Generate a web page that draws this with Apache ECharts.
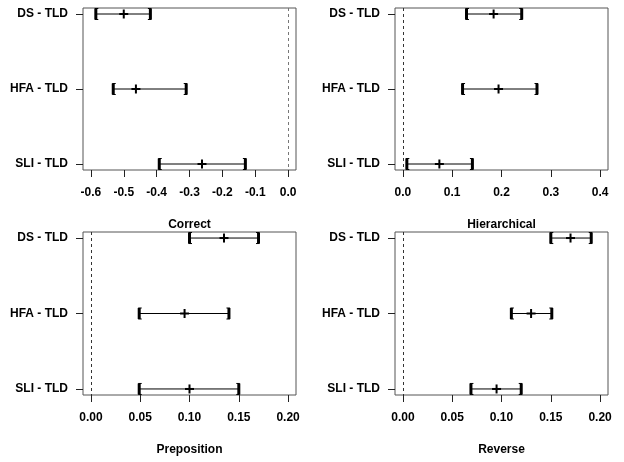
<!DOCTYPE html>
<html>
<head>
<meta charset="utf-8">
<script src="https://cdn.jsdelivr.net/npm/echarts@6/dist/echarts.min.js"></script>
<style>
html,body{margin:0;padding:0;background:#fff;}
#chart{width:624px;height:462px;}
</style>
</head>
<body>
<div id="chart"></div>
<script>
// ---- data ----
const categories = ['DS - TLD', 'HFA - TLD', 'SLI - TLD'];

const correctEst = [-0.50, -0.463, -0.262];
const correctLo  = [-0.585, -0.532, -0.392];
const correctHi  = [-0.419, -0.310, -0.130];
const correctTicks = [-0.6, -0.5, -0.4, -0.3, -0.2, -0.1, 0.0];

const hierEst = [0.184, 0.194, 0.074];
const hierLo  = [0.129, 0.121, 0.008];
const hierHi  = [0.241, 0.272, 0.141];
const hierTicks = [0.0, 0.1, 0.2, 0.3, 0.4];

const prepEst = [0.135, 0.095, 0.100];
const prepLo  = [0.100, 0.049, 0.049];
const prepHi  = [0.170, 0.140, 0.150];
const prepTicks = [0.00, 0.05, 0.10, 0.15, 0.20];

const revEst = [0.170, 0.130, 0.095];
const revLo  = [0.150, 0.110, 0.069];
const revHi  = [0.191, 0.151, 0.120];
const revTicks = [0.00, 0.05, 0.10, 0.15, 0.20];

const panelTitles = ['Correct', 'Hierarchical', 'Preposition', 'Reverse'];
const catPositions = [1, 2, 3];

// ---- build ----
const FONT = '"Liberation Sans", Arial, sans-serif';
const panels = [
  {est: correctEst, lo: correctLo, hi: correctHi, ticks: correctTicks, dec: 1},
  {est: hierEst, lo: hierLo, hi: hierHi, ticks: hierTicks, dec: 1},
  {est: prepEst, lo: prepLo, hi: prepHi, ticks: prepTicks, dec: 2},
  {est: revEst, lo: revLo, hi: revHi, ticks: revTicks, dec: 2}
];
const gridPos = [
  {left: 83, top: 8, width: 213, height: 162},
  {left: 395, top: 8, width: 213, height: 162},
  {left: 83, top: 232, width: 213, height: 163},
  {left: 395, top: 232, width: 213, height: 163}
];

const grids = [], xAxes = [], yAxes = [], series = [];
panels.forEach((p, i) => {
  grids.push(Object.assign({
    show: true, borderColor: '#555', borderWidth: 1,
    backgroundColor: 'transparent', outerBoundsMode: 'none', containLabel: false
  }, gridPos[i]));
  const t0 = p.ticks[0], t1 = p.ticks[p.ticks.length - 1];
  const ext = (t1 - t0) * 0.04;
  xAxes.push({
    type: 'value', gridIndex: i, min: t0 - ext, max: t1 + ext, position: 'bottom',
    name: panelTitles[i], nameLocation: 'middle', nameGap: 49,
    nameTextStyle: {fontFamily: FONT, fontWeight: 'bold', fontSize: 12, color: '#000'},
    axisLine: {show: false, onZero: false},
    splitLine: {show: false},
    axisTick: {show: true, length: 7, inside: false, customValues: p.ticks,
      lineStyle: {color: '#222', width: 1}},
    axisLabel: {show: true, margin: 17, customValues: p.ticks,
      formatter: v => Number(v).toFixed(p.dec),
      fontFamily: FONT, fontWeight: 'bold', fontSize: 12, color: '#000'}
  });
  yAxes.push({
    type: 'value', gridIndex: i, min: 0.92, max: 3.08, inverse: true, position: 'left',
    axisLine: {show: false, onZero: false},
    splitLine: {show: false},
    axisTick: {show: true, length: 7, inside: false, customValues: catPositions,
      lineStyle: {color: '#222', width: 1}},
    axisLabel: {show: true, margin: 15, customValues: catPositions,
      formatter: v => categories[Math.round(v) - 1] || '',
      fontFamily: FONT, fontWeight: 'bold', fontSize: 12, color: '#000'}
  });
  const data = categories.map((c, k) => [catPositions[k], p.lo[k], p.hi[k], p.est[k]]);
  series.push({
    type: 'custom', xAxisIndex: i, yAxisIndex: i,
    encode: {x: [1, 2, 3], y: 0},
    data: data,
    silent: true,
    renderItem: function (params, api) {
      const y = api.value(0);
      const a = api.coord([api.value(1), y]);
      const b = api.coord([api.value(2), y]);
      const e = api.coord([api.value(3), y]);
      const col = '#000';
      const h = 5.5, hook = 2.5, pl = 4.5;
      return {
        type: 'group',
        children: [
          {type: 'line', shape: {x1: a[0], y1: a[1], x2: b[0], y2: b[1]}, style: {stroke: col, lineWidth: 1}},
          {type: 'line', shape: {x1: a[0], y1: a[1] - h, x2: a[0], y2: a[1] + h}, style: {stroke: col, lineWidth: 3}},
          {type: 'line', shape: {x1: a[0] - 1, y1: a[1] - h, x2: a[0] + hook, y2: a[1] - h}, style: {stroke: col, lineWidth: 1}},
          {type: 'line', shape: {x1: a[0] - 1, y1: a[1] + h, x2: a[0] + hook, y2: a[1] + h}, style: {stroke: col, lineWidth: 1}},
          {type: 'line', shape: {x1: b[0], y1: b[1] - h, x2: b[0], y2: b[1] + h}, style: {stroke: col, lineWidth: 3}},
          {type: 'line', shape: {x1: b[0] + 1, y1: b[1] - h, x2: b[0] - hook, y2: b[1] - h}, style: {stroke: col, lineWidth: 1}},
          {type: 'line', shape: {x1: b[0] + 1, y1: b[1] + h, x2: b[0] - hook, y2: b[1] + h}, style: {stroke: col, lineWidth: 1}},
          {type: 'line', shape: {x1: e[0] - pl, y1: e[1], x2: e[0] + pl, y2: e[1]}, style: {stroke: col, lineWidth: 2}},
          {type: 'line', shape: {x1: e[0], y1: e[1] - pl, x2: e[0], y2: e[1] + pl}, style: {stroke: col, lineWidth: 2}}
        ]
      };
    },
    markLine: {
      silent: true, symbol: ['none', 'none'], label: {show: false},
      lineStyle: {color: i === 0 ? '#777' : '#333', type: [3, 3], width: 1},
      data: [{xAxis: 0}]
    }
  });
});

const chart = echarts.init(document.getElementById('chart'), null, {renderer: 'canvas'});
chart.setOption({
  animation: false,
  backgroundColor: '#fff',
  grid: grids,
  xAxis: xAxes,
  yAxis: yAxes,
  series: series
});
</script>
</body>
</html>
